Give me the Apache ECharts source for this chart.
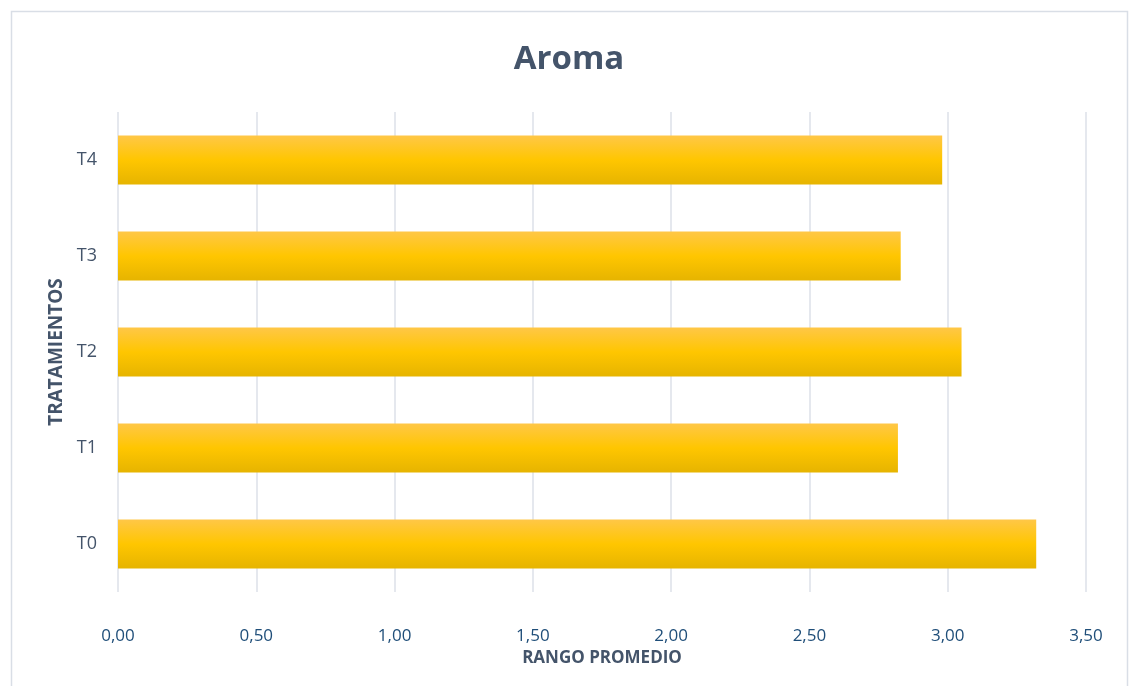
<!DOCTYPE html>
<html>
<head>
    <meta charset="utf-8">
    <script src="https://cdn.jsdelivr.net/npm/echarts@6/dist/echarts.min.js"></script>
    <style>
        html, body { margin: 0; padding: 0; background: #fff; }
        #chart { width: 1138px; height: 686px; }
    </style>
</head>
<body>
<div id="chart"></div>
<script>
    var categories = ['T0', 'T1', 'T2', 'T3', 'T4'];
    var values = [3.32, 2.82, 3.05, 2.83, 2.98];
    var xTicks = [0, 0.5, 1, 1.5, 2, 2.5, 3, 3.5];

    var chart = echarts.init(document.getElementById('chart'));

    var barColor = new echarts.graphic.LinearGradient(0, 0, 0, 1, [
        { offset: 0, color: '#FFC747' },
        { offset: 0.5, color: '#FFC600' },
        { offset: 1, color: '#E6B400' }
    ]);

    var option = {
        animation: false,
        graphic: [{
            type: 'rect',
            shape: { x: 11.5, y: 11.5, width: 1116, height: 690 },
            style: { fill: 'none', stroke: '#D9DEE6', lineWidth: 1.5 }
        }],
        title: {
            text: 'Aroma',
            left: 'center',
            top: 38,
            textStyle: {
                fontFamily: 'Open Sans',
                fontSize: 33,
                fontWeight: 'bold',
                color: '#44546A'
            }
        },
        grid: { left: 118, right: 52, top: 112, bottom: 94 },
        xAxis: {
            type: 'value',
            min: 0,
            max: 3.5,
            interval: 0.5,
            name: 'RANGO PROMEDIO',
            nameLocation: 'middle',
            nameGap: 56,
            nameTextStyle: {
                fontFamily: 'Open Sans',
                fontSize: 17,
                fontWeight: 'bold',
                color: '#44546A'
            },
            axisLine: { show: false },
            axisTick: { show: false },
            axisLabel: {
                margin: 36,
                fontFamily: 'Open Sans',
                fontSize: 17,
                color: '#1F4E79',
                formatter: function (v) { return v.toFixed(2).replace('.', ','); }
            },
            splitLine: { lineStyle: { color: '#DDE1E8', width: 1.5 } }
        },
        yAxis: {
            type: 'category',
            data: categories,
            name: 'TRATAMIENTOS',
            nameLocation: 'middle',
            nameGap: 50,
            nameRotate: 90,
            nameTextStyle: {
                fontFamily: 'Open Sans',
                fontSize: 19,
                fontWeight: 'bold',
                color: '#44546A'
            },
            axisLine: { show: false },
            axisTick: { show: false },
            axisLabel: {
                margin: 21,
                fontFamily: 'Open Sans',
                fontSize: 18,
                color: '#44546A'
            }
        },
        series: [{
            type: 'bar',
            data: values,
            barWidth: '51%',
            itemStyle: { color: barColor }
        }]
    };

    chart.setOption(option);
</script>
</body>
</html>
